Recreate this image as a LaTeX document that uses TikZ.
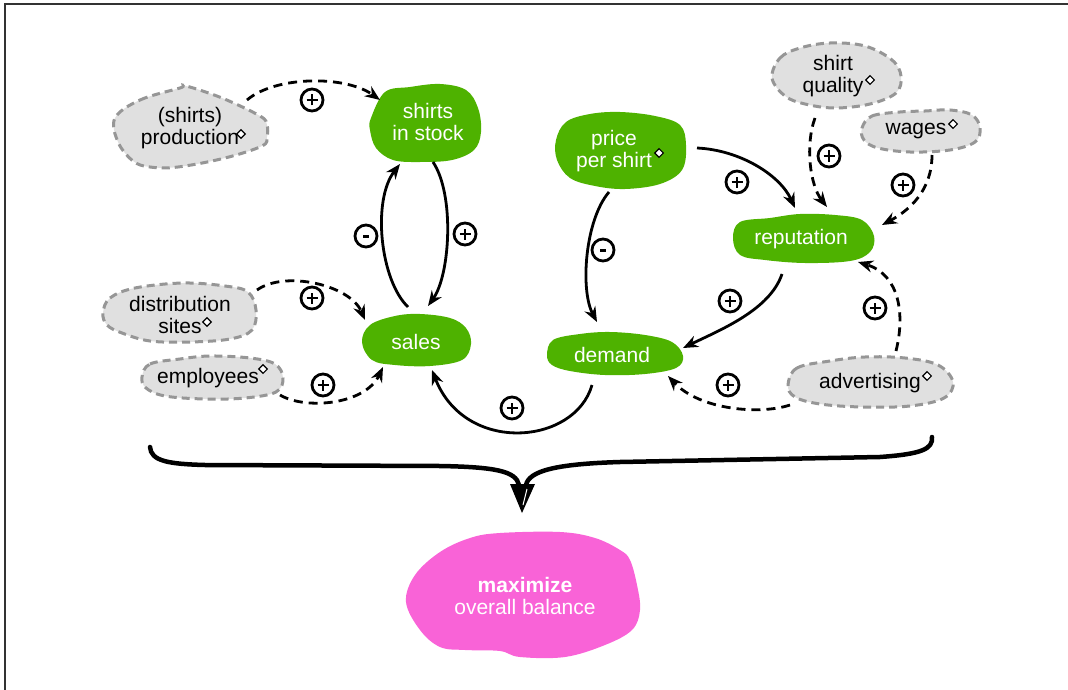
\documentclass[tikz,border=0pt]{standalone}
\usepackage{fontspec}
\setmainfont{Liberation Sans}
\usetikzlibrary{arrows.meta,shapes.geometric}
\definecolor{blobgreen}{RGB}{78,178,0}
\definecolor{blobpink}{RGB}{249,99,215}
\definecolor{cloudgrey}{RGB}{224,224,224}
\definecolor{cloudedge}{RGB}{150,150,150}

\begin{document}
\begin{tikzpicture}[x=1pt,y=-1pt,
  vartext/.style={align=center, font=\fontsize{21}{22}\selectfont, inner sep=0pt},
  greenvar/.style={vartext, text=white},
  greyvar/.style={vartext, text=black},
  greenblob/.style={fill=blobgreen},
  pinkblob/.style={fill=blobpink},
  greyblob/.style={fill=cloudgrey, draw=cloudedge, line width=3pt, dash pattern=on 8pt off 5pt},
  conn/.style={line width=2.8pt, -{Stealth[length=15pt,width=12pt]}},
  dconn/.style={conn, dash pattern=on 9pt off 6pt},
  sign/.style={circle, draw, line width=2.8pt, minimum size=22pt, inner sep=0pt},
  signplus/.style={sign, path picture={
      \draw[line width=2.8pt]
        ([xshift=-5.5pt]path picture bounding box.center) -- ([xshift=5.5pt]path picture bounding box.center)
        ([yshift=-5.5pt]path picture bounding box.center) -- ([yshift=5.5pt]path picture bounding box.center);}},
  signminus/.style={sign, path picture={
      \draw[line width=3pt]
        ([xshift=-2.6pt]path picture bounding box.center) -- ([xshift=2.6pt]path picture bounding box.center);}},
  dmd/.style={diamond, draw, fill=white, line width=1.1pt, minimum width=9pt, minimum height=9pt, inner sep=0pt},
  brace/.style={line width=4.5pt, line cap=round}
]
\useasboundingbox (0,0) rectangle (1068,690);

% frame
\draw[line width=1.5pt, black!80] (1068,4) -- (5,4) -- (5,690);

% ---------- blobs ----------
% (shirts) production
\draw[greyblob] plot[smooth cycle, tension=0.6] coordinates {(115,118) (140,100) (180,88) (186,86) (222,98) (260,116) (267,125) (267,137) (262,146) (225,158) (178,167) (150,167) (133,161) (118,142)};
% shirts in stock
\fill[greenblob] plot[smooth cycle, tension=0.6] coordinates {(371,118) (385,92) (410,87) (440,84) (466,90) (478,108) (481,132) (474,150) (452,160) (420,162) (393,160) (376,148) (370,130)};
% price per shirt
\fill[greenblob] plot[smooth cycle, tension=0.6] coordinates {(556,140) (566,122) (590,114) (620,112) (655,116) (680,125) (686,145) (682,170) (660,184) (625,189) (595,186) (570,178) (557,160)};
% shirt quality
\draw[greyblob] plot[smooth cycle, tension=0.6] coordinates {(772,78) (780,58) (800,48) (830,43) (865,46) (892,60) (901,76) (896,93) (870,104) (835,108) (805,104) (785,96)};
% wages
\draw[greyblob] plot[smooth cycle, tension=0.6] coordinates {(862,128) (872,116) (900,112) (925,111) (950,110) (972,115) (980,128) (975,142) (950,150) (910,152) (878,148) (864,140)};
% reputation
\fill[greenblob] plot[smooth cycle, tension=0.6] coordinates {(733,238) (740,222) (770,218) (800,214) (835,215) (862,220) (874,236) (870,252) (850,261) (805,263) (765,260) (740,255)};
% sales
\fill[greenblob] plot[smooth cycle, tension=0.6] coordinates {(362,342) (370,325) (395,316) (420,314) (450,318) (466,328) (471,344) (462,360) (430,366) (395,365) (372,360)};
% distribution sites
\draw[greyblob] plot[smooth cycle, tension=0.6] coordinates {(103,313) (110,298) (135,288) (183,283) (225,286) (248,292) (256,310) (252,330) (230,339) (190,342) (150,341) (122,333) (107,325)};
% employees
\draw[greyblob] plot[smooth cycle, tension=0.6] coordinates {(142,377) (150,364) (180,359) (210,356) (250,358) (275,364) (283,378) (276,392) (245,398) (205,399) (165,396) (146,388)};
% demand
\fill[greenblob] plot[smooth cycle, tension=0.6] coordinates {(547,355) (553,340) (580,334) (610,332) (645,335) (672,342) (683,356) (676,368) (645,374) (605,375) (570,371) (552,365)};
% advertising
\draw[greyblob] plot[smooth cycle, tension=0.6] coordinates {(788,385) (797,368) (830,361) (865,357) (905,358) (938,365) (953,382) (944,398) (910,406) (862,407) (820,404) (795,397)};
% goal
\fill[pinkblob] plot[smooth cycle, tension=0.6] coordinates {(406,602) (415,575) (440,552) (470,538) (500,533) (560,532) (595,538) (620,550) (630,560) (637,585) (640,610) (632,630) (605,645) (565,657) (520,657) (500,651) (465,650) (440,647) (420,630)};

% ---------- variables ----------
\node[greyvar]  (prod)    at (190,128) {(shirts)\\production};
\node[greenvar] (stock)   at (428,122) {shirts\\in stock};
\node[greenvar] (price)   at (614,151) {price\\per shirt};
\node[greyvar]  (quality) at (833,76)  {shirt\\quality};
\node[greyvar]  (wages)   at (916,131) {wages};
\node[greenvar] (repu)    at (801,239) {reputation};
\node[greenvar] (sales)   at (416,342) {sales};
\node[greyvar]  (dist)    at (180,315) {distribution\\sites};
\node[greyvar]  (empl)    at (208,378) {employees};
\node[greenvar] (demand)  at (612,355) {demand};
\node[greyvar]  (adv)     at (870,383) {advertising};
\node[greenvar] (goal)    at (525,596) {\textbf{maximize}\\overall balance};

% decision markers
\node[dmd] (dprod)    at ([shift={(51,6)}]prod.center) {};
\node[dmd] (dprice)   at ([shift={(45,2)}]price.center) {};
\node[dmd] (dquality) at ([shift={(37,4)}]quality.center) {};
\node[dmd] (dwages)   at ([shift={(37,-7)}]wages.center) {};
\node[dmd] (ddist)    at ([shift={(27,7)}]dist.center) {};
\node[dmd] (dempl)    at ([shift={(55,-9)}]empl.center) {};
\node[dmd] (dadv)     at ([shift={(57,-7)}]adv.center) {};

% ---------- influences ----------
\draw[dconn] ([shift={(57,-28)}]prod.center) .. controls +(28,-24) and +(-35,-25) .. ([shift={(-48,-22)}]stock.center);
\draw[conn]  ([shift={(5,40)}]stock.center) .. controls +(22,33) and +(22,-31) .. ([shift={(12,-36)}]sales.center);
\draw[conn]  ([shift={(-8,-35)}]sales.center) .. controls +(-28,-27) and +(-28,36) .. ([shift={(-28,42)}]stock.center);
\draw[dconn] ([shift={(77,-25)}]dist.center) .. controls +(28,-20) and +(-15,-35) .. ([shift={(-51,-22)}]sales.center);
\draw[dconn] ([shift={(72,17)}]empl.center) .. controls +(25,15) and +(-18,38) .. ([shift={(-33,25)}]sales.center);
\draw[conn]  ([shift={(-20,30)}]demand.center) .. controls +(-17,60) and +(33,85) .. ([shift={(16,28)}]sales.center);
\draw[conn]  ([shift={(-5,41)}]price.center) .. controls +(-24,28) and +(-17,-32) .. ([shift={(-15,-33)}]demand.center);
\draw[conn]  ([shift={(83,-3)}]price.center) .. controls +(43,2) and +(-15,-33) .. ([shift={(-6,-31)}]repu.center);
\draw[dconn] ([shift={(-18,42)}]quality.center) .. controls +(-10,27) and +(-17,-22) .. ([shift={(26,-32)}]repu.center);
\draw[dconn] ([shift={(16,24)}]wages.center) .. controls +(0,35) and +(28,-15) .. ([shift={(81,-14)}]repu.center);
\draw[conn]  ([shift={(-19,35)}]repu.center) .. controls +(-12,36) and +(37,-18) .. ([shift={(71,-7)}]demand.center);
\draw[dconn] ([shift={(26,-32)}]adv.center) .. controls +(9,-36) and +(42,13) .. ([shift={(57,23)}]repu.center);
\draw[dconn] ([shift={(-80,22)}]adv.center) .. controls +(-30,10) and +(32,34) .. ([shift={(56,21)}]demand.center);

% polarity marks
\node[signplus]  (p1)  at (312,100) {};
\node[signplus]  (p2)  at (465,234) {};
\node[signminus] (m1)  at (366,236) {};
\node[signplus]  (p3)  at (312,298) {};
\node[signplus]  (p4)  at (323,385) {};
\node[signplus]  (p5)  at (512,408) {};
\node[signminus] (m2)  at (603,250) {};
\node[signplus]  (p6)  at (737,182) {};
\node[signplus]  (p7)  at (829,156) {};
\node[signplus]  (p8)  at (903,185) {};
\node[signplus]  (p9)  at (730,301) {};
\node[signplus]  (p10) at (875,308) {};
\node[signplus]  (p11) at (728,385) {};

% ---------- brace into the goal ----------
\coordinate (braceL) at (150,447);
\coordinate (braceR) at (932,437);
\coordinate (goaltip) at ([shift={(-3,-83)}]goal.center);
\draw[brace] (braceL) .. controls (151,461) and (168,464) .. (205,465) -- (440,466)
  .. controls (495,467) and (516,471) .. (519,485);
\draw[brace] (526,485) .. controls (529,471) and (555,464) .. (620,462) -- (880,457)
  .. controls (922,454) and (933,449) .. (braceR);
\fill (510,484) -- (535,484) -- (goaltip) -- cycle;
\draw[white, line width=1pt] (527,489) -- (523,505);
\end{tikzpicture}
\end{document}
